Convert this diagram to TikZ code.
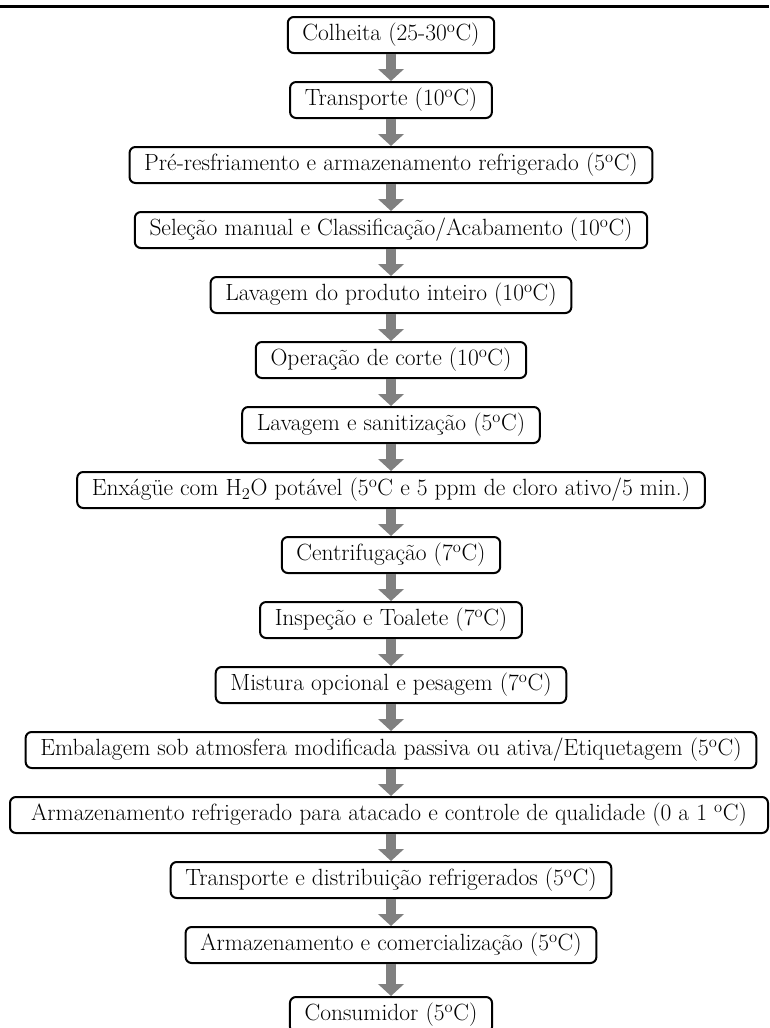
\documentclass[tikz,border=0pt]{standalone}
\usepackage{tikz}
\usepackage{xcolor}
\usetikzlibrary{arrows.meta}
\definecolor{setaCinza}{RGB}{128, 128, 128}
\newcommand{\graus}{\textsuperscript{o}}
\tikzset{
    etapa/.style={draw, line width=1.5pt, rounded corners=4.5pt, fill=white,
        inner xsep=11pt, minimum height=27pt, font=\fontsize{17.6}{20}\selectfont},
    seta/.style={line width=8pt, setaCinza, -{Triangle[width=19pt, length=9pt]}}
}

\begin{document}
\begin{tikzpicture}[x=0.75pt, y=-0.75pt]
    \useasboundingbox (0,0) rectangle (769,1028);
    \draw[line width=2.25pt] (0,6) -- (769,6);
    \node[etapa] (colheita) at (391,35) {Colheita (25-30\graus C)};
    \node[etapa] (transporte) at (391,100) {Transporte (10\graus C)};
    \node[etapa] (resfriamento) at (391,165) {Pré-resfriamento e armazenamento refrigerado (5\graus C)};
    \node[etapa] (selecao) at (391,230) {Seleção manual e Classificação/Acabamento (10\graus C)};
    \node[etapa] (lavagemInteiro) at (391,295) {Lavagem do produto inteiro (10\graus C)};
    \node[etapa] (corte) at (391,360) {Operação de corte (10\graus C)};
    \node[etapa] (sanitizacao) at (391,425) {Lavagem e sanitização (5\graus C)};
    \node[etapa] (enxague) at (391,490) {Enxágüe com H\textsubscript{2}O potável (5\graus C e 5 ppm de cloro ativo/5 min.)};
    \node[etapa] (centrifugacao) at (391,555) {Centrifugação (7\graus C)};
    \node[etapa] (inspecao) at (391,620) {Inspeção e Toalete (7\graus C)};
    \node[etapa] (mistura) at (391,685) {Mistura opcional e pesagem (7\graus C)};
    \node[etapa] (embalagem) at (391,750) {Embalagem sob atmosfera modificada passiva ou ativa/Etiquetagem (5\graus C)};
    \node[etapa, minimum width=568.5pt] (atacado) at (389,815) {Armazenamento refrigerado para atacado e controle de qualidade (0 a 1 \graus C)};
    \node[etapa] (distribuicao) at (391,880) {Transporte e distribuição refrigerados (5\graus C)};
    \node[etapa] (comercializacao) at (391,945) {Armazenamento e comercialização (5\graus C)};
    \node[etapa] (consumidor) at (391,1015) {Consumidor (5\graus C)};
    \draw[seta] (colheita) -- (transporte);
    \draw[seta] (transporte) -- (resfriamento);
    \draw[seta] (resfriamento) -- (selecao);
    \draw[seta] (selecao) -- (lavagemInteiro);
    \draw[seta] (lavagemInteiro) -- (corte);
    \draw[seta] (corte) -- (sanitizacao);
    \draw[seta] (sanitizacao) -- (enxague);
    \draw[seta] (enxague) -- (centrifugacao);
    \draw[seta] (centrifugacao) -- (inspecao);
    \draw[seta] (inspecao) -- (mistura);
    \draw[seta] (mistura) -- (embalagem);
    \draw[seta] (embalagem) -- (embalagem.south |- atacado.north);
    \draw[seta] (distribuicao.north |- atacado.south) -- (distribuicao);
    \draw[seta] (distribuicao) -- (comercializacao);
    \draw[seta] (comercializacao) -- (consumidor);
\end{tikzpicture}
\end{document}
